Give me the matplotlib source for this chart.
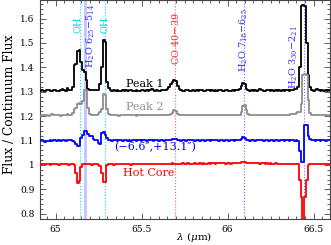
import numpy as np
import matplotlib
matplotlib.use('Agg')
import matplotlib.pyplot as plt
from matplotlib.ticker import MultipleLocator, FormatStrFormatter

plt.rcParams['font.family'] = 'DejaVu Serif'
plt.rcParams['mathtext.fontset'] = 'dejavuserif'

# wavelength grid (um), 0.01 bins from 64.90 to 66.60
lam = np.round(64.90 + 0.01 * np.arange(171), 2)

peak1 = [
    1.305, 1.303, 1.306, 1.304, 1.302, 1.306, 1.307, 1.304, 1.303, 1.305,
    1.306, 1.304, 1.303, 1.305, 1.310, 1.307, 1.304, 1.316, 1.308, 1.305,
    1.320, 1.410, 1.415, 1.465, 1.470, 1.420, 1.390, 1.380, 1.350, 1.312,
    1.308, 1.306, 1.305, 1.307, 1.309, 1.306, 1.330, 1.400, 1.511, 1.505,
    1.340, 1.315, 1.306, 1.304, 1.305, 1.303, 1.306, 1.304, 1.303, 1.305,
    1.304, 1.306, 1.303, 1.305, 1.307, 1.304, 1.303, 1.305, 1.304, 1.303,
    1.305, 1.307, 1.304, 1.306, 1.303, 1.305, 1.312, 1.306, 1.304, 1.305,
    1.303, 1.304, 1.306, 1.305, 1.307, 1.310, 1.318, 1.330, 1.340, 1.347,
    1.345, 1.325, 1.310, 1.306, 1.304, 1.303, 1.305, 1.306, 1.304, 1.303,
    1.305, 1.304, 1.306, 1.303, 1.305, 1.307, 1.304, 1.303, 1.305, 1.306,
    1.304, 1.305, 1.303, 1.306, 1.304, 1.305, 1.307, 1.304, 1.303, 1.305,
    1.306, 1.304, 1.303, 1.305, 1.304, 1.306, 1.308, 1.312, 1.325, 1.335,
    1.330, 1.312, 1.306, 1.304, 1.305, 1.303, 1.306, 1.304, 1.305, 1.310,
    1.306, 1.304, 1.303, 1.305, 1.307, 1.304, 1.305, 1.303, 1.306, 1.304,
    1.305, 1.303, 1.306, 1.304, 1.305, 1.306, 1.304, 1.305, 1.308, 1.310,
    1.312, 1.318, 1.400, 1.650, 1.655, 1.652, 1.500, 1.370, 1.318, 1.306,
    1.304, 1.306, 1.310, 1.305, 1.303, 1.306, 1.304, 1.305, 1.303, 1.305,
    1.304]

peak2 = [
    1.204, 1.202, 1.205, 1.203, 1.206, 1.204, 1.202, 1.205, 1.207, 1.204,
    1.203, 1.205, 1.204, 1.202, 1.206, 1.205, 1.203, 1.207, 1.205, 1.206,
    1.212, 1.230, 1.232, 1.250, 1.255, 1.250, 1.260, 1.305, 1.306, 1.232,
    1.208, 1.205, 1.204, 1.206, 1.205, 1.207, 1.215, 1.230, 1.290, 1.288,
    1.230, 1.210, 1.205, 1.204, 1.203, 1.205, 1.204, 1.202, 1.204, 1.205,
    1.203, 1.204, 1.206, 1.204, 1.203, 1.205, 1.204, 1.202, 1.204, 1.203,
    1.204, 1.205, 1.203, 1.204, 1.206, 1.204, 1.203, 1.205, 1.204, 1.203,
    1.204, 1.203, 1.205, 1.204, 1.203, 1.205, 1.206, 1.208, 1.212, 1.225,
    1.220, 1.208, 1.205, 1.204, 1.203, 1.205, 1.204, 1.203, 1.205, 1.204,
    1.203, 1.205, 1.204, 1.203, 1.205, 1.204, 1.206, 1.204, 1.203, 1.205,
    1.204, 1.203, 1.205, 1.204, 1.206, 1.204, 1.203, 1.205, 1.204, 1.203,
    1.205, 1.204, 1.203, 1.205, 1.204, 1.203, 1.205, 1.206, 1.215, 1.240,
    1.245, 1.225, 1.207, 1.204, 1.203, 1.205, 1.204, 1.203, 1.205, 1.204,
    1.203, 1.205, 1.204, 1.203, 1.205, 1.204, 1.203, 1.205, 1.204, 1.203,
    1.205, 1.204, 1.203, 1.205, 1.204, 1.206, 1.205, 1.207, 1.208, 1.210,
    1.212, 1.215, 1.215, 1.250, 1.370, 1.372, 1.368, 1.268, 1.212, 1.205,
    1.204, 1.203, 1.205, 1.204, 1.206, 1.204, 1.203, 1.205, 1.204, 1.203,
    1.204]

offset_pos = [
    1.100, 1.098, 1.101, 1.097, 1.094, 1.096, 1.099, 1.101, 1.098, 1.100,
    1.102, 1.099, 1.101, 1.098, 1.100, 1.102, 1.099, 1.101, 1.103, 1.100,
    1.098, 1.095, 1.087, 1.078, 1.078, 1.110, 1.122, 1.138, 1.138, 1.128,
    1.120, 1.118, 1.105, 1.104, 1.101, 1.088, 1.085, 1.130, 1.136, 1.122,
    1.110, 1.104, 1.101, 1.099, 1.102, 1.100, 1.098, 1.101, 1.100, 1.099,
    1.101, 1.100, 1.098, 1.101, 1.099, 1.100, 1.102, 1.099, 1.101, 1.100,
    1.099, 1.101, 1.100, 1.098, 1.101, 1.104, 1.100, 1.099, 1.101, 1.100,
    1.099, 1.101, 1.100, 1.099, 1.101, 1.100, 1.102, 1.103, 1.105, 1.108,
    1.106, 1.102, 1.100, 1.099, 1.101, 1.100, 1.099, 1.101, 1.100, 1.102,
    1.100, 1.099, 1.101, 1.100, 1.098, 1.101, 1.100, 1.099, 1.101, 1.100,
    1.099, 1.101, 1.100, 1.102, 1.100, 1.099, 1.101, 1.100, 1.099, 1.101,
    1.100, 1.099, 1.101, 1.100, 1.099, 1.101, 1.100, 1.102, 1.106, 1.115,
    1.112, 1.104, 1.100, 1.099, 1.101, 1.100, 1.099, 1.101, 1.100, 1.102,
    1.100, 1.099, 1.101, 1.100, 1.099, 1.101, 1.100, 1.099, 1.101, 1.100,
    1.099, 1.101, 1.100, 1.099, 1.101, 1.100, 1.099, 1.101, 1.100, 1.099,
    1.100, 1.099, 1.055, 1.010, 1.010, 1.163, 1.163, 1.120, 1.105, 1.101,
    1.100, 1.099, 1.101, 1.100, 1.099, 1.101, 1.100, 1.099, 1.101, 1.100,
    1.100]

hot_core = [
    1.003, 1.001, 1.004, 1.002, 1.003, 1.005, 1.002, 1.001, 1.003, 1.004,
    1.002, 1.003, 1.001, 1.004, 1.003, 1.002, 1.004, 1.003, 1.001, 1.003,
    1.002, 0.998, 0.965, 0.926, 0.935, 0.990, 1.002, 1.003, 1.004, 1.002,
    1.003, 1.001, 1.004, 1.002, 1.003, 1.001, 0.995, 0.965, 0.928, 0.930,
    1.000, 1.003, 1.002, 1.004, 1.001, 1.003, 1.002, 1.004, 1.003, 1.002,
    1.003, 1.004, 1.002, 1.003, 1.001, 1.003, 1.004, 1.002, 1.003, 1.004,
    1.002, 1.003, 1.004, 1.002, 1.003, 1.005, 1.003, 1.002, 1.004, 1.003,
    1.004, 1.002, 1.003, 1.005, 1.004, 1.003, 1.004, 1.005, 1.006, 1.005,
    1.004, 1.003, 1.005, 1.004, 1.006, 1.005, 1.004, 1.006, 1.005, 1.004,
    1.005, 1.006, 1.004, 1.005, 1.007, 1.005, 1.006, 1.005, 1.004, 1.006,
    1.005, 1.007, 1.006, 1.005, 1.006, 1.008, 1.006, 1.007, 1.006, 1.005,
    1.007, 1.006, 1.005, 1.007, 1.006, 1.008, 1.007, 1.008, 1.010, 1.012,
    1.011, 1.009, 1.007, 1.008, 1.006, 1.007, 1.008, 1.006, 1.007, 1.005,
    1.006, 1.007, 1.005, 1.006, 1.004, 1.006, 1.005, 1.004, 1.006, 1.005,
    1.004, 1.005, 1.003, 1.005, 1.004, 1.003, 1.005, 1.004, 1.003, 1.004,
    1.003, 1.002, 0.937, 0.870, 0.700, 0.870, 0.940, 1.000, 1.004, 1.003,
    1.004, 1.003, 1.002, 1.004, 1.003, 1.002, 1.004, 1.003, 1.002, 1.003,
    1.003]

# line identifications: wavelength, label, colour, label x, label bottom y
line_lam = [65.14, 65.17, 65.285, 65.695, 66.095, 66.445]
line_col = ['#00e0f0', '#c4c4ff', '#00e0f0', '#ff6060', '#6a6aff', '#6a6aff']
line_txt = ['OH', r'H$_2$O 6$_{25}$$-$5$_{14}$', 'OH', r'CO 40$-$39',
            r'H$_2$O 7$_{18}$$-$6$_{25}$', r'H$_2$O 3$_{30}$$-$2$_{21}$']
txt_x = [65.128, 65.206, 65.288, 65.698, 66.096, 66.382]
txt_y = [1.54, 1.396, 1.54, 1.409, 1.38, 1.31]
txt_col = ['#00d8e8', '#3030ff', '#00d8e8', '#ff2020', '#3030ff', '#3030ff']

fig = plt.figure(figsize=(3.31, 2.45), dpi=100)
ax = fig.add_axes([0.121, 0.106, 0.876, 0.893])

for i in range(len(line_lam)):
    if i == 1:
        ax.axvline(line_lam[i], color=line_col[i], ls='-', lw=2.0, zorder=1)
    else:
        ax.axvline(line_lam[i], color=line_col[i], ls=':', lw=0.8, zorder=1)
    ax.text(txt_x[i], txt_y[i], line_txt[i], rotation=90, ha='center',
            va='bottom', color=txt_col[i], fontsize=7)

ax.plot(lam, peak1, 'k-', drawstyle='steps-mid', lw=1.3, zorder=3)
ax.plot(lam, peak2, '-', color='#8e8e8e', drawstyle='steps-mid', lw=1.3, zorder=3)
ax.plot(lam, offset_pos, '-', color='#0000ff', drawstyle='steps-mid', lw=1.3, zorder=3)
ax.plot(lam, hot_core, '-', color='#ff0000', drawstyle='steps-mid', lw=1.3, zorder=3)

ax.text(65.407, 1.331, 'Peak 1', color='k', fontsize=8, va='center')
ax.text(65.407, 1.238, 'Peak 2', color='#8e8e8e', fontsize=8, va='center')
ax.text(65.339, 1.074, '(\u22126.6\u2033,+13.1\u2033)', color='#0000ff',
        fontsize=8, va='center')
ax.text(65.394, 0.965, 'Hot Core', color='#ff0000', fontsize=8, va='center')

ax.set_xlim(64.91, 66.595)
ax.set_ylim(0.778, 1.675)
ax.xaxis.set_major_locator(MultipleLocator(0.5))
ax.xaxis.set_minor_locator(MultipleLocator(0.05))
ax.yaxis.set_major_locator(MultipleLocator(0.1))
ax.yaxis.set_minor_locator(MultipleLocator(0.02))
ax.xaxis.set_major_formatter(FormatStrFormatter('%g'))
ax.yaxis.set_major_formatter(FormatStrFormatter('%g'))
ax.tick_params(which='both', direction='in', top=True, right=True,
               labelsize=6.5, width=0.6, color='#444444')
ax.tick_params(which='major', length=4, pad=4)
ax.tick_params(which='minor', length=2)
for s in ax.spines.values():
    s.set_linewidth(0.8)
    s.set_color('#444444')

fig.text(194 / 331, 0.005, r'$\lambda$ ($\mu$m)', fontsize=7.5,
         ha='center', va='bottom')
fig.text(0.03, (245 - 104) / 245, 'Flux / Continuum Flux', fontsize=8.8,
         rotation=90, ha='center', va='center')

plt.savefig('out.png', dpi=100)
